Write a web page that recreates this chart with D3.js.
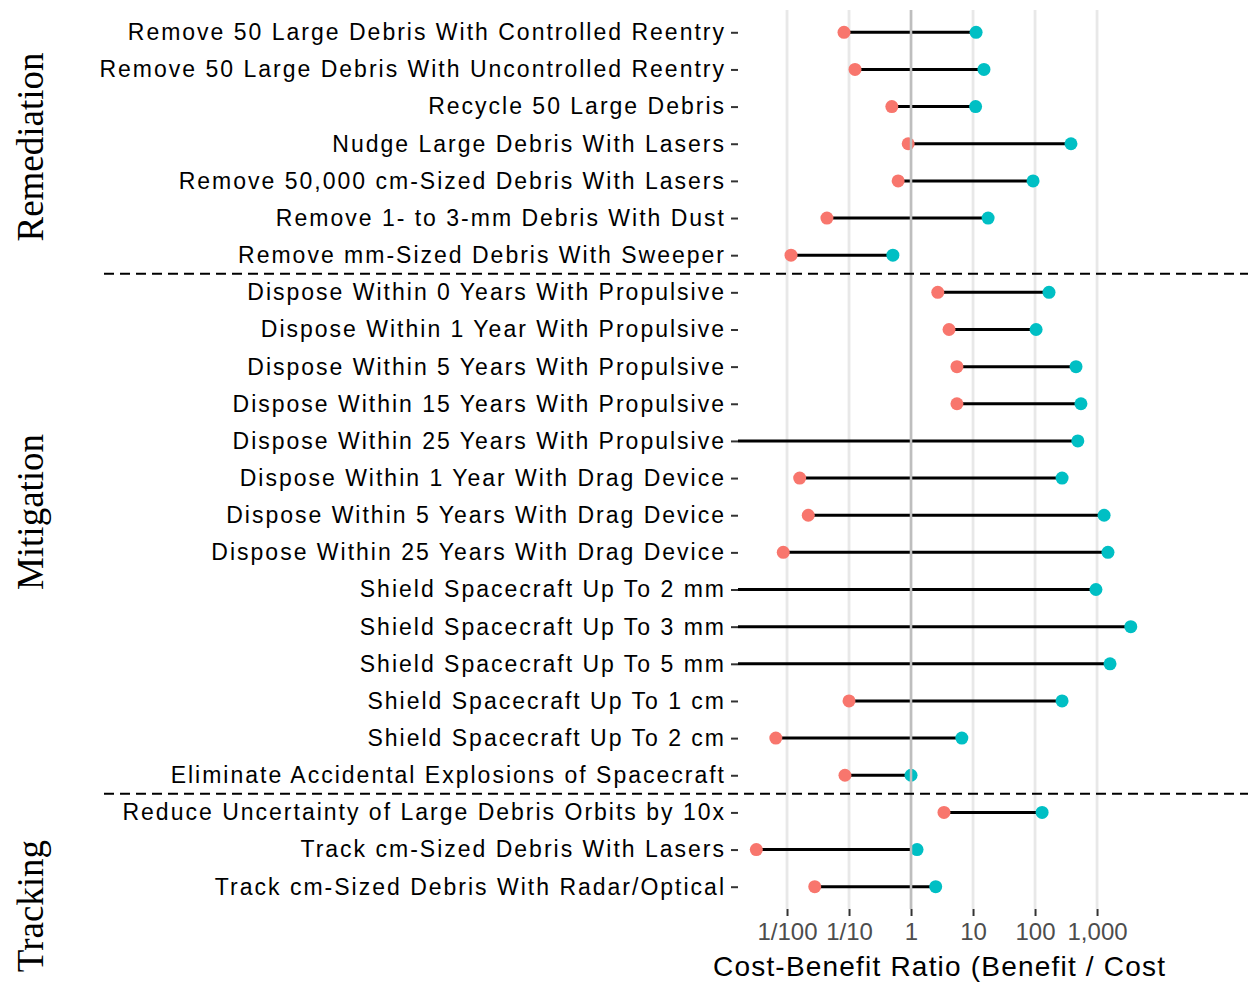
<!DOCTYPE html>
<html>
<head>
<meta charset="utf-8">
<script src="https://cdn.jsdelivr.net/npm/d3@7"></script>
<style>
  body { margin: 0; background: #fff; }
  svg { display: block; }
</style>
</head>
<body>
<div id="chart"></div>
<script>
// categories, top to bottom
var measures = [
  "Remove 50 Large Debris With Controlled Reentry",
  "Remove 50 Large Debris With Uncontrolled Reentry",
  "Recycle 50 Large Debris",
  "Nudge Large Debris With Lasers",
  "Remove 50,000 cm-Sized Debris With Lasers",
  "Remove 1- to 3-mm Debris With Dust",
  "Remove mm-Sized Debris With Sweeper",
  "Dispose Within 0 Years With Propulsive",
  "Dispose Within 1 Year With Propulsive",
  "Dispose Within 5 Years With Propulsive",
  "Dispose Within 15 Years With Propulsive",
  "Dispose Within 25 Years With Propulsive",
  "Dispose Within 1 Year With Drag Device",
  "Dispose Within 5 Years With Drag Device",
  "Dispose Within 25 Years With Drag Device",
  "Shield Spacecraft Up To 2 mm",
  "Shield Spacecraft Up To 3 mm",
  "Shield Spacecraft Up To 5 mm",
  "Shield Spacecraft Up To 1 cm",
  "Shield Spacecraft Up To 2 cm",
  "Eliminate Accidental Explosions of Spacecraft",
  "Reduce Uncertainty of Large Debris Orbits by 10x",
  "Track cm-Sized Debris With Lasers",
  "Track cm-Sized Debris With Radar/Optical"
];
var groups = [
  "Remediation","Remediation","Remediation","Remediation","Remediation","Remediation","Remediation",
  "Mitigation","Mitigation","Mitigation","Mitigation","Mitigation","Mitigation","Mitigation",
  "Mitigation","Mitigation","Mitigation","Mitigation","Mitigation","Mitigation","Mitigation",
  "Tracking","Tracking","Tracking"
];
// low estimate (null = below the axis range)
var lowRatio = [0.083, 0.125, 0.49, 0.9, 0.62, 0.044, 0.0116,
  2.7, 4.1, 5.5, 5.5, null, 0.016, 0.022, 0.0087, null, null, null, 0.1, 0.0066, 0.086,
  3.4, 0.0032, 0.028];
// high estimate
var highRatio = [11.2, 15, 11, 380, 93, 17.5, 0.51,
  168, 104, 458, 550, 490, 273, 1300, 1500, 960, 3500, 1620, 273, 6.6, 1.0,
  130, 1.25, 2.5];
var tickValues = [0.01, 0.1, 1, 10, 100, 1000];
var tickLabels = ["1/100", "1/10", "1", "10", "100", "1,000"];
var groupLabels = ["Remediation", "Mitigation", "Tracking"];
var groupLabelY = [147, 512, 906];

var W = 1248, H = 984;
var panel = {left: 738, right: 1248, top: 10, bottom: 909};

var svg = d3.select("#chart").append("svg")
  .attr("width", W).attr("height", H);

var x = d3.scaleLog()
  .domain([0.00162, 272000])
  .range([panel.left, panel.right]);

var y = d3.scalePoint()
  .domain(measures)
  .range([panel.top, panel.bottom])
  .padding(0.6);

// gridlines
svg.append("g").selectAll("line")
  .data(tickValues)
  .enter().append("line")
    .attr("x1", function(d) { return x(d); })
    .attr("x2", function(d) { return x(d); })
    .attr("y1", panel.top).attr("y2", panel.bottom)
    .attr("stroke", "#e8e8e8")
    .attr("stroke-width", 2.8);

// segments
svg.append("g").selectAll("line")
  .data(measures)
  .enter().append("line")
    .attr("x1", function(d, i) { return lowRatio[i] == null ? panel.left : x(lowRatio[i]); })
    .attr("x2", function(d, i) { return x(highRatio[i]); })
    .attr("y1", function(d) { return y(d); })
    .attr("y2", function(d) { return y(d); })
    .attr("stroke", "#000")
    .attr("stroke-width", 3);

// low points
svg.append("g").selectAll("circle")
  .data(measures.filter(function(d, i) { return lowRatio[i] != null; }))
  .enter().append("circle")
    .attr("cx", function(d) { return x(lowRatio[measures.indexOf(d)]); })
    .attr("cy", function(d) { return y(d); })
    .attr("r", 6.5)
    .attr("fill", "#F8766D");

// high points
svg.append("g").selectAll("circle")
  .data(measures)
  .enter().append("circle")
    .attr("cx", function(d, i) { return x(highRatio[i]); })
    .attr("cy", function(d) { return y(d); })
    .attr("r", 6.5)
    .attr("fill", "#00BFC4");

// reference line at ratio 1
svg.append("line")
  .attr("x1", x(1)).attr("x2", x(1))
  .attr("y1", panel.top).attr("y2", panel.bottom)
  .attr("stroke", "#bebebe")
  .attr("stroke-width", 2.5);

// dashed separators between groups
[6, 20].forEach(function(i) {
  var yy = (y(measures[i]) + y(measures[i + 1])) / 2;
  svg.append("line")
    .attr("x1", 104).attr("x2", W)
    .attr("y1", yy).attr("y2", yy)
    .attr("stroke", "#000")
    .attr("stroke-width", 2)
    .attr("stroke-dasharray", "10,6");
});

// y axis
var yAxis = svg.append("g")
  .attr("transform", "translate(" + panel.left + ",0)")
  .call(d3.axisLeft(y).tickSize(7).tickPadding(5));
yAxis.select(".domain").remove();
yAxis.selectAll(".tick line").attr("stroke", "#333").attr("stroke-width", 2);
yAxis.selectAll(".tick text")
  .attr("fill", "#000")
  .style("font-family", "Liberation Sans, Arial, sans-serif")
  .style("font-size", "23px")
  .style("letter-spacing", "2.0px");

// x axis
var xAxis = svg.append("g")
  .attr("transform", "translate(0," + panel.bottom + ")")
  .call(d3.axisBottom(x).tickValues(tickValues)
    .tickFormat(function(d, i) { return tickLabels[i]; })
    .tickSize(7).tickPadding(7));
xAxis.select(".domain").remove();
xAxis.selectAll(".tick line").attr("stroke", "#333").attr("stroke-width", 2);
xAxis.selectAll(".tick text")
  .attr("fill", "#4d4d4d")
  .style("font-family", "Liberation Sans, Arial, sans-serif")
  .style("font-size", "24px");

// axis title
svg.append("text")
  .attr("x", 713)
  .attr("y", 976)
  .style("font-family", "Liberation Sans, Arial, sans-serif")
  .style("font-size", "28px")
  .style("letter-spacing", "1.2px")
  .text("Cost-Benefit Ratio (Benefit / Cost");

// group labels
svg.append("g").selectAll("text")
  .data(groupLabels)
  .enter().append("text")
    .attr("transform", function(d, i) { return "translate(43," + groupLabelY[i] + ") rotate(-90)"; })
    .attr("text-anchor", "middle")
    .style("font-family", "Liberation Serif, Times New Roman, serif")
    .style("font-size", "37px")
    .text(function(d) { return d; });
</script>
</body>
</html>
